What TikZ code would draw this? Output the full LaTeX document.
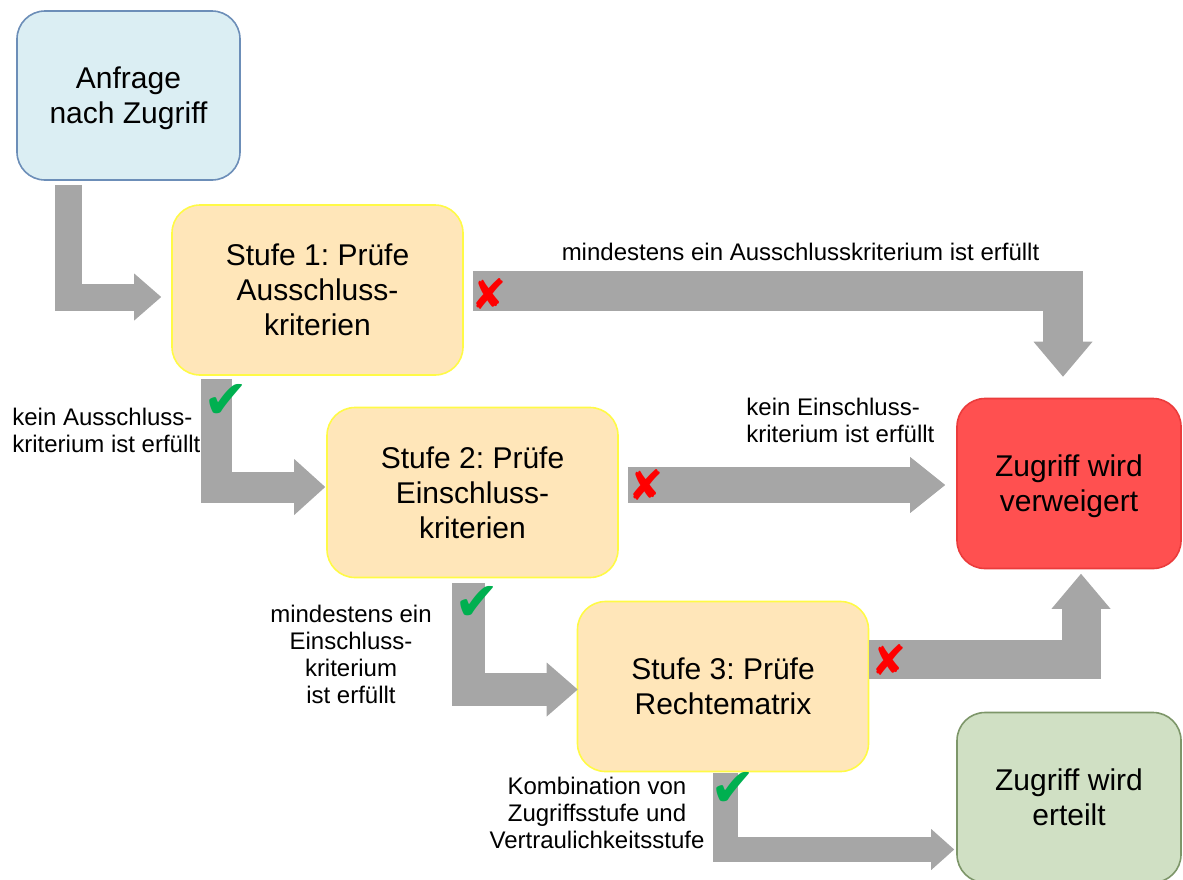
\documentclass[tikz,border=0pt]{standalone}
\usepackage{fontspec}
\setmainfont{Liberation Sans}
\newfontfamily\symbolfont{DejaVu Sans}
\usetikzlibrary{arrows.meta}
\frenchspacing

\definecolor{askblue}{RGB}{219,238,243}
\definecolor{askborder}{RGB}{108,142,184}
\definecolor{checkfill}{RGB}{255,230,185}
\definecolor{checkborder}{RGB}{255,250,70}
\definecolor{denyred}{RGB}{255,80,80}
\definecolor{denyborder}{RGB}{235,60,60}
\definecolor{grantgreen}{RGB}{208,224,196}
\definecolor{grantborder}{RGB}{125,150,105}
\definecolor{arrowgray}{RGB}{166,166,166}
\definecolor{okgreen}{RGB}{0,176,80}
\definecolor{nored}{RGB}{255,0,0}

\begin{document}
\begin{tikzpicture}[
    x=0.5pt, y=-0.5pt,
    box/.style={draw, line width=0.8pt, rounded corners=14pt, align=center, inner sep=0pt,
        text depth=0pt, font=\fontsize{15}{17.5}\selectfont},
    request/.style={box, fill=askblue, draw=askborder, minimum width=111.5pt, minimum height=84.5pt},
    stage/.style={box, fill=checkfill, draw=checkborder, minimum width=145.5pt, minimum height=85pt},
    denied/.style={box, fill=denyred, draw=denyborder, minimum width=112pt, minimum height=85pt},
    granted/.style={box, fill=grantgreen, draw=grantborder, minimum width=112pt, minimum height=85pt},
    flow/.style n args={3}{draw=arrowgray, line width=#1,
        -{Triangle[length=#2 0 0, width=#3 0 0, line width=0pt 0 0]}},
    cond/.style={font=\fontsize{12}{13.5}\selectfont, inner sep=0pt},
    okmark/.style={text=okgreen, font=\symbolfont\fontsize{27}{27}\selectfont, inner sep=0pt},
    nomark/.style={text=nored, font=\symbolfont\fontsize{21}{21}\selectfont, inner sep=0pt}
]
\useasboundingbox (0,0) rectangle (1183,879);

\node[request] (anfrage) at (128.5,95.5) {Anfrage\\nach Zugriff};
\node[stage] (stufe1) at (317.5,290) {Stufe 1: Prüfe\\Ausschluss-\\kriterien};
\node[stage] (stufe2) at (472.5,492.5) {Stufe 2: Prüfe\\Einschluss-\\kriterien};
\node[stage] (stufe3) at (723,686.5) {Stufe 3: Prüfe\\Rechtematrix};
\node[denied] (verweigert) at (1069,483.5) {Zugriff wird\\verweigert};
\node[granted] (erteilt) at (1069,797.5) {Zugriff wird\\erteilt};

% Connections
\draw[flow={13.5pt}{13.5pt}{23.5pt}] ([shift={(-60,4)}]anfrage.south) |- ([shift={(-10,7)}]stufe1.west);
\draw[flow={20pt}{17.5pt}{29.5pt}] ([shift={(9,1)}]stufe1.east) -| ([shift={(-6,-21)}]verweigert.north);
\draw[flow={15.5pt}{15.5pt}{28pt}] ([shift={(-101,3)}]stufe1.south) |- ([shift={(-1,-5.5)}]stufe2.west);
\draw[flow={18pt}{17.5pt}{28pt}] ([shift={(9,-7.5)}]stufe2.east) -- ([shift={(-11,1.5)}]verweigert.west);
\draw[flow={16.5pt}{15.5pt}{27pt}] ([shift={(-4.5,5)}]stufe2.south) |- ([shift={(1,3)}]stufe3.west);
\draw[flow={19.5pt}{17.5pt}{29.5pt}] ([shift={(0,-27)}]stufe3.east) -| ([shift={(12,4.5)}]verweigert.south);
\draw[flow={12.5pt}{11.5pt}{20.5pt}] ([shift={(2.5,1)}]stufe3.south) |- ([shift={(-2,52)}]erteilt.west);

% Marks
\node[nomark] (no1) at (489,294) {✘};
\node[okmark] (ok1) at (226,401) {✔};
\node[nomark] (no2) at (646,485) {✘};
\node[okmark] (ok2) at (477,603) {✔};
\node[nomark] (no3) at (889,660) {✘};
\node[okmark] (ok3) at (733,789) {✔};

% Conditions
\node[cond, anchor=base] (c1) at (800.5,260) {mindestens ein Ausschlusskriterium ist erfüllt};
\node[cond, align=left, anchor=west] (c2) at (12,430) {kein Ausschluss-\\kriterium ist erfüllt};
\node[cond, align=left, anchor=west] (c3) at (746,420) {kein Einschluss-\\kriterium ist erfüllt};
\node[cond, align=center] (c4) at (351,654) {mindestens ein\\Einschluss-\\kriterium\\ist erfüllt};
\node[cond, align=center] (c5) at (597,812.5) {Kombination von\\Zugriffsstufe und\\Vertraulichkeitsstufe};

\end{tikzpicture}
\end{document}
